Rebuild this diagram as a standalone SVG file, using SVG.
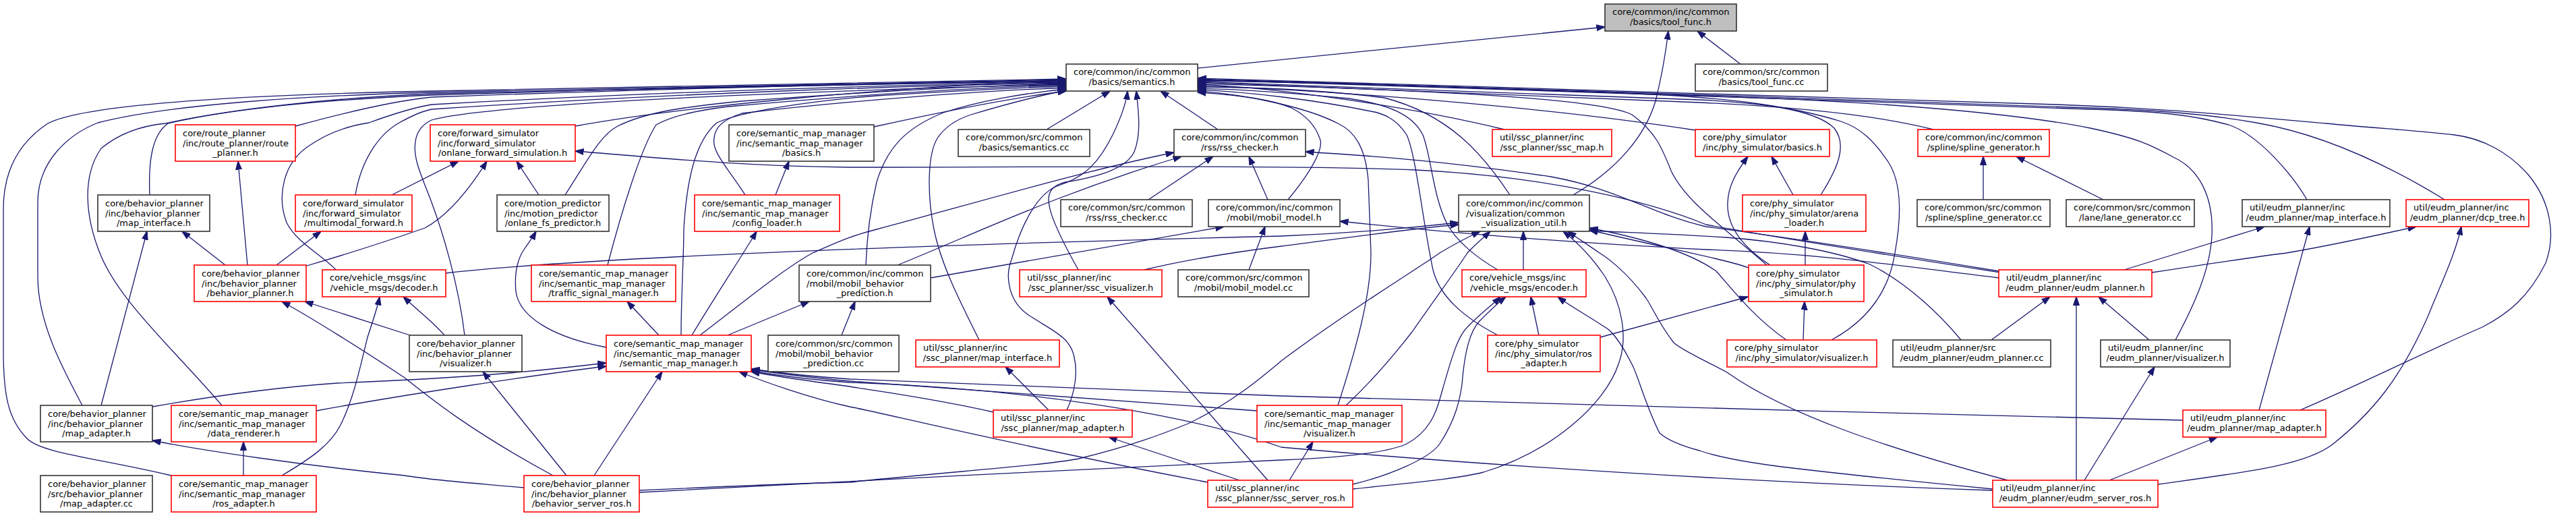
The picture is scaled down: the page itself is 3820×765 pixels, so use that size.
<svg xmlns="http://www.w3.org/2000/svg" width="3820" height="765" viewBox="0 0 3820 765">
<defs>
<marker id="a" viewBox="0 0 13 10" refX="12.5" refY="5" markerWidth="13" markerHeight="10" markerUnits="userSpaceOnUse" orient="auto"><path d="M0,0.5L13,5L0,9.5z" fill="#191970" stroke="#191970" stroke-width="1"/></marker>
<style>
.e path{fill:none;stroke:#191970;stroke-width:1.3;marker-end:url(#a)}
rect{fill:#fff;stroke:#333;stroke-width:1.6}
.r rect{stroke:#f00}
.g rect{fill:#bfbfbf}
text{font-family:"DejaVu Sans",sans-serif;font-size:13px;fill:#000}
.m{text-anchor:middle}
</style>
</defs>
<rect x="0" y="0" width="3820" height="765" style="fill:#fff;stroke:none"/>
<g id="edges" class="e">
<path d="M254,705 C150,680 60,672 40,650 C12,622 5,585 5,520 L5,310 C5,250 30,210 71,183 C130,152 400,140 640,135 C1000,126 1350,119 1581,117"/>
<path d="M122,601 C95,550 56,480 56,410 L56,300 C56,240 100,200 145,182 C250,155 450,142 640,137 C1000,128 1350,120 1581,118"/>
<path d="M329,601 C260,520 180,450 150,380 C125,320 122,260 150,220 C180,195 215,186 245,183 C350,160 500,145 640,139 C1000,129 1350,121 1581,119"/>
<path d="M222,289 C220,240 225,200 249,183 C350,160 500,147 640,141 C1000,130 1350,122 1581,120"/>
<path d="M438,187 C500,170 580,150 640,144 C1000,131 1350,123 1581,121"/>
<path d="M498,400 C480,380 440,360 425,330 C410,290 420,240 460,215 C490,195 520,186 547,182 C580,170 610,160 640,155 C1000,135 1350,125 1581,122"/>
<path d="M527,289 C535,240 560,200 592,182 C610,172 625,165 640,162 C1000,138 1350,127 1581,123"/>
<path d="M689,497 C680,420 655,340 640,300 C625,260 612,235 616,210 C618,195 625,185 640,178 C700,160 1000,140 1581,125"/>
<path d="M853,187 C1000,160 1300,130 1581,119"/>
<path d="M838,289 C870,240 890,200 916,187 C960,165 1020,158 1100,150 C1300,135 1450,127 1581,124"/>
<path d="M901,393 C920,320 950,220 973,185 C1000,170 1040,163 1080,158 C1300,138 1450,130 1581,126"/>
<path d="M1010,497 C1010,440 1014,380 1014,340 C1018,270 1030,210 1063,182 C1100,165 1200,150 1300,142 C1420,135 1500,130 1581,128"/>
<path d="M1105,289 C1080,250 1055,225 1059,205 C1060,190 1070,178 1100,168 C1250,150 1450,135 1581,130"/>
<path d="M1296,188 C1400,165 1500,145 1581,135"/>
<path d="M1284,393 C1286,340 1293,300 1300,270 C1315,220 1342,190 1399,167 C1450,150 1520,138 1581,132"/>
<path d="M1452,504 C1420,440 1395,390 1385,340 C1375,290 1375,230 1390,205 C1400,190 1415,178 1440,170 C1490,155 1540,142 1581,134"/>
<path d="M1552,192 L1646,135"/>
<path d="M1806,192 L1721,135"/>
<path d="M1582,608 C1595,580 1598,550 1593,530 C1588,500 1560,490 1530,470 C1495,450 1490,410 1500,385 C1515,330 1540,285 1570,275 C1610,262 1630,240 1650,200 C1662,175 1670,155 1672,135"/>
<path d="M1599,400 C1585,375 1560,330 1556,305 C1552,285 1560,275 1580,270 C1630,262 1670,250 1682,225 C1692,200 1689,170 1685,135"/>
<path d="M2231,192 C2100,160 1900,130 1776,125"/>
<path d="M2514,193 C2300,160 2000,135 1776,127"/>
<path d="M2867,192 C2800,175 2700,160 2520,152 C2200,140 1950,128 1776,122"/>
<path d="M2239,289 C2200,230 2150,170 2053,145 C1950,132 1850,129 1776,129"/>
<path d="M1910,296 C1940,260 1965,220 1957,205 C1950,185 1935,170 1915,160 C1880,145 1820,140 1776,137"/>
<path d="M1984,601 C2010,520 2033,440 2033,375 L2029,267 C2025,220 2010,195 1984,183 C1940,160 1850,140 1776,135"/>
<path d="M2221,497 C2170,470 2135,440 2125,400 C2110,330 2100,230 2086,200 C2070,175 2050,168 2033,165 C1950,148 1850,136 1776,133"/>
<path d="M2221,400 C2195,385 2160,360 2145,330 C2125,290 2122,230 2110,200 C2095,170 2060,155 2000,146 C1900,136 1830,132 1776,131"/>
<path d="M2620,393 C2560,340 2500,300 2478,253 C2465,220 2455,195 2420,170 C2380,150 2200,135 1776,124"/>
<path d="M2700,289 C2725,250 2740,215 2720,190 C2690,160 2600,152 2520,148 C2200,135 1950,125 1776,121"/>
<path d="M2716,504 C2760,480 2800,440 2810,375 C2820,320 2820,270 2800,240 C2780,210 2760,190 2730,180 C2650,155 2550,145 2450,140 C2200,130 1950,122 1776,120"/>
<path d="M3226,504 C3255,450 3277,400 3280,350 C3283,290 3260,250 3223,233 C3190,215 3170,205 3100,190 C3000,170 2800,150 2520,142 C2200,130 1950,122 1776,119"/>
<path d="M3421,296 C3400,260 3350,200 3305,185 C3250,170 3200,165 3100,162 C2700,150 2200,130 1776,118"/>
<path d="M3625,296 C3550,250 3450,200 3346,182 C3280,170 3200,163 3100,160 C2700,148 2200,128 1776,117"/>
<path d="M3411,608 C3500,570 3600,520 3681,485 C3720,465 3750,440 3775,390 C3790,350 3783,300 3750,260 C3720,225 3680,205 3640,200 C3580,193 3520,190 3450,183 C3300,170 3200,160 3050,155 C2600,142 2200,128 1776,116"/>
<path d="M1776,101 L2380,40"/>
<path d="M2581,95 L2517,46"/>
<path d="M2333,289 C2400,250 2440,200 2455,150 C2465,110 2470,80 2474,46"/>
<path d="M150,601 L218,343"/>
<path d="M334,393 L270,343"/>
<path d="M367,393 L353,239"/>
<path d="M410,393 L476,343"/>
<path d="M455,394 C520,375 590,352 630,338 C660,322 690,290 722,239"/>
<path d="M581,289 L680,239"/>
<path d="M799,289 L766,239"/>
<path d="M2966,404 C2800,378 2620,350 2530,333 C2450,300 2300,262 2100,252 C1900,244 1500,248 1260,248 C1100,246 1000,236 853,224"/>
<path d="M2964,402 C2800,375 2620,348 2530,336 C2450,318 2400,280 2300,262 C2150,240 2050,232 1936,225"/>
<path d="M2964,412 C2800,392 2700,376 2530,370 C2300,358 2150,345 1987,328"/>
<path d="M1150,289 L1170,239"/>
<path d="M977,497 L930,447"/>
<path d="M899,515 C820,500 770,470 765,432 C762,400 770,380 777,370 C785,358 790,352 795,343"/>
<path d="M1026,497 C1060,440 1100,380 1122,343"/>
<path d="M1038,497 C1100,450 1160,400 1205,375 C1240,360 1260,350 1300,340 C1450,300 1600,255 1741,226"/>
<path d="M1079,497 L1200,447"/>
<path d="M1248,497 L1268,447"/>
<path d="M1331,393 C1450,345 1560,290 1752,232"/>
<path d="M1380,412 L1815,336"/>
<path d="M1703,296 L1799,232"/>
<path d="M1880,296 L1852,232"/>
<path d="M1852,400 L1876,336"/>
<path d="M661,405 C900,378 1500,360 1900,350 C2000,346 2100,337 2163,330"/>
<path d="M1697,400 C1760,385 1820,375 1900,365 C2000,352 2100,338 2163,333"/>
<path d="M948,727 C1100,720 1200,716 1260,715 C1400,700 1550,690 1600,680 C1680,660 1720,645 1762,628 C1830,595 1870,560 1900,535 C2000,460 2100,400 2135,375 C2160,360 2180,350 2195,343"/>
<path d="M1996,601 C2040,560 2080,510 2094,492 C2130,440 2160,400 2176,375 C2190,360 2200,352 2210,343"/>
<path d="M2259,400 L2259,343"/>
<path d="M2006,725 C2100,715 2160,710 2200,700 C2300,670 2380,600 2400,540 C2415,500 2405,450 2380,410 C2360,380 2340,360 2318,343"/>
<path d="M2977,712 C2800,665 2650,615 2561,552 C2530,535 2495,520 2482,508 C2460,480 2450,455 2441,442 C2410,400 2380,380 2372,375 C2350,360 2335,350 2325,343"/>
<path d="M2649,504 C2600,470 2570,430 2545,402 C2500,370 2420,350 2357,338"/>
<path d="M2593,397 C2560,385 2480,370 2357,341"/>
<path d="M2625,393 C2590,370 2560,340 2562,300 C2563,275 2575,255 2592,232"/>
<path d="M2659,289 L2627,232"/>
<path d="M2677,393 L2677,343"/>
<path d="M2373,500 L2592,440"/>
<path d="M2674,504 L2676,447"/>
<path d="M2941,296 L2941,232"/>
<path d="M3119,296 L2990,232"/>
<path d="M3150,400 L3358,336"/>
<path d="M3350,608 L3425,336"/>
<path d="M3191,404 C3250,395 3350,380 3391,375 C3450,365 3520,350 3583,336"/>
<path d="M3200,718 C3330,700 3420,690 3460,658 C3520,610 3560,560 3600,470 C3620,420 3640,380 3650,336"/>
<path d="M2953,504 L3040,440"/>
<path d="M3079,712 L3079,440"/>
<path d="M3187,504 L3112,440"/>
<path d="M3091,712 L3195,544"/>
<path d="M3128,712 L3288,648"/>
<path d="M608,497 L452,447"/>
<path d="M659,497 C645,480 625,465 598,440"/>
<path d="M820,705 C700,640 640,592 600,560 C540,520 460,470 418,447"/>
<path d="M840,705 L716,551"/>
<path d="M881,705 L982,551"/>
<path d="M777,723 C700,716 640,712 600,705 C450,690 300,668 226,653"/>
<path d="M948,730 C1100,722 1700,690 1900,682 C2000,678 2060,670 2086,658 C2120,640 2130,610 2135,592 C2150,540 2160,500 2176,485 C2195,465 2210,455 2225,440"/>
<path d="M361,705 L361,655"/>
<path d="M418,705 C460,680 490,660 505,630 C525,590 535,540 545,500 C555,470 560,455 563,440"/>
<path d="M226,603 C300,590 400,575 500,568 C700,560 800,550 899,538"/>
<path d="M469,609 C600,585 800,555 899,543"/>
<path d="M1473,611 C1380,590 1300,580 1260,573 C1200,565 1150,558 1114,551"/>
<path d="M1864,609 C1600,590 1400,575 1260,565 C1200,560 1150,553 1114,548"/>
<path d="M1791,715 C1500,660 1300,610 1260,603 C1200,590 1130,565 1096,551"/>
<path d="M2955,727 C2600,715 2200,690 1900,663 C1750,610 1500,575 1260,567 C1200,563 1150,556 1114,550"/>
<path d="M3237,623 C2800,612 2300,600 1900,587 C1600,577 1300,565 1260,562 C1200,558 1150,552 1114,547"/>
<path d="M1555,608 L1491,544"/>
<path d="M1838,712 L1644,648"/>
<path d="M1880,712 L1642,440"/>
<path d="M1912,712 L1947,655"/>
<path d="M2006,718 C2060,705 2120,680 2135,658 C2160,620 2165,590 2168,570 C2172,520 2180,490 2195,475 C2210,460 2220,450 2233,440"/>
<path d="M2955,725 C2850,715 2750,705 2642,692 C2580,684 2540,675 2520,668 C2490,660 2470,650 2461,642 C2440,600 2430,560 2421,542 C2405,510 2390,490 2380,485 C2350,465 2330,455 2310,440"/>
<path d="M2282,497 L2270,440"/>
<path d="M2908,504 C2880,470 2830,420 2773,392 C2720,372 2640,358 2560,352 C2480,347 2420,345 2357,342"/>
</g>
<g id="nodes">
<g id="tool_func_h" class="g"><rect x="2380" y="6" width="195" height="40"/><text x="2391" y="22">core/common/inc/common</text><text class="m" x="2477.5" y="37">/basics/tool_func.h</text></g>
<g id="semantics_h"><rect x="1581" y="95" width="195" height="40"/><text x="1592" y="111">core/common/inc/common</text><text class="m" x="1678.5" y="126">/basics/semantics.h</text></g>
<g id="tool_func_cc"><rect x="2514" y="95" width="196" height="40"/><text x="2525" y="111">core/common/src/common</text><text class="m" x="2612" y="126">/basics/tool_func.cc</text></g>
<g id="route_planner_h" class="r"><rect x="260" y="185" width="178" height="54"/><text x="271" y="202">core/route_planner</text><text x="271" y="216.5">/inc/route_planner/route</text><text class="m" x="349" y="231">_planner.h</text></g>
<g id="onlane_forward_simulation_h" class="r"><rect x="638" y="185" width="215" height="54"/><text x="649" y="202">core/forward_simulator</text><text x="649" y="216.5">/inc/forward_simulator</text><text class="m" x="745.5" y="231">/onlane_forward_simulation.h</text></g>
<g id="smm_basics_h"><rect x="1081" y="185" width="215" height="54"/><text x="1092" y="202">core/semantic_map_manager</text><text x="1092" y="216.5">/inc/semantic_map_manager</text><text class="m" x="1188.5" y="231">/basics.h</text></g>
<g id="semantics_cc"><rect x="1421" y="192" width="195" height="40"/><text x="1432" y="208">core/common/src/common</text><text class="m" x="1518.5" y="223">/basics/semantics.cc</text></g>
<g id="rss_checker_h"><rect x="1741" y="192" width="195" height="40"/><text x="1752" y="208">core/common/inc/common</text><text class="m" x="1838.5" y="223">/rss/rss_checker.h</text></g>
<g id="ssc_map_h" class="r"><rect x="2213" y="192" width="177" height="40"/><text x="2224" y="208">util/ssc_planner/inc</text><text class="m" x="2301.5" y="223">/ssc_planner/ssc_map.h</text></g>
<g id="phy_basics_h" class="r"><rect x="2514" y="192" width="199" height="40"/><text x="2525" y="208">core/phy_simulator</text><text class="m" x="2613.5" y="223">/inc/phy_simulator/basics.h</text></g>
<g id="spline_generator_h" class="r"><rect x="2844" y="192" width="195" height="40"/><text x="2855" y="208">core/common/inc/common</text><text class="m" x="2941.5" y="223">/spline/spline_generator.h</text></g>
<g id="bp_map_interface_h"><rect x="145" y="289" width="166" height="54"/><text x="156" y="306">core/behavior_planner</text><text x="156" y="320.5">/inc/behavior_planner</text><text class="m" x="228" y="335">/map_interface.h</text></g>
<g id="multimodal_forward_h" class="r"><rect x="438" y="289" width="173" height="54"/><text x="449" y="306">core/forward_simulator</text><text x="449" y="320.5">/inc/forward_simulator</text><text class="m" x="524.5" y="335">/multimodal_forward.h</text></g>
<g id="onlane_fs_predictor_h"><rect x="737" y="289" width="166" height="54"/><text x="748" y="306">core/motion_predictor</text><text x="748" y="320.5">/inc/motion_predictor</text><text class="m" x="820" y="335">/onlane_fs_predictor.h</text></g>
<g id="config_loader_h" class="r"><rect x="1030" y="289" width="215" height="54"/><text x="1041" y="306">core/semantic_map_manager</text><text x="1041" y="320.5">/inc/semantic_map_manager</text><text class="m" x="1137.5" y="335">/config_loader.h</text></g>
<g id="rss_checker_cc"><rect x="1573" y="296" width="195" height="40"/><text x="1584" y="312">core/common/src/common</text><text class="m" x="1670.5" y="327">/rss/rss_checker.cc</text></g>
<g id="mobil_model_h"><rect x="1792" y="296" width="195" height="40"/><text x="1803" y="312">core/common/inc/common</text><text class="m" x="1889.5" y="327">/mobil/mobil_model.h</text></g>
<g id="common_visualization_util_h"><rect x="2163" y="289" width="194" height="54"/><text x="2174" y="306">core/common/inc/common</text><text x="2174" y="320.5">/visualization/common</text><text class="m" x="2260" y="335">_visualization_util.h</text></g>
<g id="arena_loader_h" class="r"><rect x="2584" y="289" width="183" height="54"/><text x="2595" y="306">core/phy_simulator</text><text x="2595" y="320.5">/inc/phy_simulator/arena</text><text class="m" x="2675.5" y="335">_loader.h</text></g>
<g id="spline_generator_cc"><rect x="2843" y="296" width="197" height="40"/><text x="2854" y="312">core/common/src/common</text><text class="m" x="2941.5" y="327">/spline/spline_generator.cc</text></g>
<g id="lane_generator_cc"><rect x="3064" y="296" width="190" height="40"/><text x="3075" y="312">core/common/src/common</text><text class="m" x="3159" y="327">/lane/lane_generator.cc</text></g>
<g id="eudm_map_interface_h"><rect x="3325" y="296" width="219" height="40"/><text x="3336" y="312">util/eudm_planner/inc</text><text class="m" x="3434.5" y="327">/eudm_planner/map_interface.h</text></g>
<g id="dcp_tree_h" class="r"><rect x="3568" y="296" width="182" height="40"/><text x="3579" y="312">util/eudm_planner/inc</text><text class="m" x="3659" y="327">/eudm_planner/dcp_tree.h</text></g>
<g id="behavior_planner_h" class="r"><rect x="288" y="393" width="166" height="54"/><text x="299" y="410">core/behavior_planner</text><text x="299" y="424.5">/inc/behavior_planner</text><text class="m" x="371" y="439">/behavior_planner.h</text></g>
<g id="decoder_h" class="r"><rect x="478" y="400" width="183" height="40"/><text x="489" y="416">core/vehicle_msgs/inc</text><text class="m" x="569.5" y="431">/vehicle_msgs/decoder.h</text></g>
<g id="traffic_signal_manager_h" class="r"><rect x="788" y="393" width="214" height="54"/><text x="799" y="410">core/semantic_map_manager</text><text x="799" y="424.5">/inc/semantic_map_manager</text><text class="m" x="895" y="439">/traffic_signal_manager.h</text></g>
<g id="mobil_behavior_prediction_h"><rect x="1185" y="393" width="195" height="54"/><text x="1196" y="410">core/common/inc/common</text><text x="1196" y="424.5">/mobil/mobil_behavior</text><text class="m" x="1282.5" y="439">_prediction.h</text></g>
<g id="ssc_visualizer_h" class="r"><rect x="1512" y="400" width="211" height="40"/><text x="1523" y="416">util/ssc_planner/inc</text><text class="m" x="1617.5" y="431">/ssc_planner/ssc_visualizer.h</text></g>
<g id="mobil_model_cc"><rect x="1747" y="400" width="194" height="40"/><text x="1758" y="416">core/common/src/common</text><text class="m" x="1844" y="431">/mobil/mobil_model.cc</text></g>
<g id="encoder_h" class="r"><rect x="2168" y="400" width="184" height="40"/><text x="2179" y="416">core/vehicle_msgs/inc</text><text class="m" x="2260" y="431">/vehicle_msgs/encoder.h</text></g>
<g id="phy_simulator_h" class="r"><rect x="2593" y="393" width="171" height="54"/><text x="2604" y="410">core/phy_simulator</text><text x="2604" y="424.5">/inc/phy_simulator/phy</text><text class="m" x="2678.5" y="439">_simulator.h</text></g>
<g id="eudm_planner_h" class="r"><rect x="2964" y="400" width="227" height="40"/><text x="2975" y="416">util/eudm_planner/inc</text><text class="m" x="3077.5" y="431">/eudm_planner/eudm_planner.h</text></g>
<g id="bp_visualizer_h"><rect x="607" y="497" width="167" height="54"/><text x="618" y="514">core/behavior_planner</text><text x="618" y="528.5">/inc/behavior_planner</text><text class="m" x="690.5" y="543">/visualizer.h</text></g>
<g id="semantic_map_manager_h" class="r"><rect x="899" y="497" width="215" height="54"/><text x="910" y="514">core/semantic_map_manager</text><text x="910" y="528.5">/inc/semantic_map_manager</text><text class="m" x="1006.5" y="543">/semantic_map_manager.h</text></g>
<g id="mobil_behavior_prediction_cc"><rect x="1139" y="497" width="194" height="54"/><text x="1150" y="514">core/common/src/common</text><text x="1150" y="528.5">/mobil/mobil_behavior</text><text class="m" x="1236" y="543">_prediction.cc</text></g>
<g id="ssc_map_interface_h" class="r"><rect x="1358" y="504" width="213" height="40"/><text x="1369" y="520">util/ssc_planner/inc</text><text class="m" x="1464.5" y="535">/ssc_planner/map_interface.h</text></g>
<g id="phy_ros_adapter_h" class="r"><rect x="2206" y="497" width="167" height="54"/><text x="2217" y="514">core/phy_simulator</text><text x="2217" y="528.5">/inc/phy_simulator/ros</text><text class="m" x="2289.5" y="543">_adapter.h</text></g>
<g id="phy_visualizer_h" class="r"><rect x="2561" y="504" width="222" height="40"/><text x="2572" y="520">core/phy_simulator</text><text class="m" x="2672" y="535">/inc/phy_simulator/visualizer.h</text></g>
<g id="eudm_planner_cc"><rect x="2807" y="504" width="234" height="40"/><text x="2818" y="520">util/eudm_planner/src</text><text class="m" x="2924" y="535">/eudm_planner/eudm_planner.cc</text></g>
<g id="eudm_visualizer_h"><rect x="3115" y="504" width="192" height="40"/><text x="3126" y="520">util/eudm_planner/inc</text><text class="m" x="3211" y="535">/eudm_planner/visualizer.h</text></g>
<g id="bp_map_adapter_h"><rect x="60" y="601" width="166" height="54"/><text x="71" y="618">core/behavior_planner</text><text x="71" y="632.5">/inc/behavior_planner</text><text class="m" x="143" y="647">/map_adapter.h</text></g>
<g id="data_renderer_h" class="r"><rect x="254" y="601" width="215" height="54"/><text x="265" y="618">core/semantic_map_manager</text><text x="265" y="632.5">/inc/semantic_map_manager</text><text class="m" x="361.5" y="647">/data_renderer.h</text></g>
<g id="ssc_map_adapter_h" class="r"><rect x="1473" y="608" width="206" height="40"/><text x="1484" y="624">util/ssc_planner/inc</text><text class="m" x="1576" y="639">/ssc_planner/map_adapter.h</text></g>
<g id="smm_visualizer_h" class="r"><rect x="1864" y="601" width="215" height="54"/><text x="1875" y="618">core/semantic_map_manager</text><text x="1875" y="632.5">/inc/semantic_map_manager</text><text class="m" x="1971.5" y="647">/visualizer.h</text></g>
<g id="eudm_map_adapter_h" class="r"><rect x="3237" y="608" width="212" height="40"/><text x="3248" y="624">util/eudm_planner/inc</text><text class="m" x="3343" y="639">/eudm_planner/map_adapter.h</text></g>
<g id="bp_map_adapter_cc"><rect x="60" y="705" width="166" height="54"/><text x="71" y="722">core/behavior_planner</text><text x="71" y="736.5">/src/behavior_planner</text><text class="m" x="143" y="751">/map_adapter.cc</text></g>
<g id="ros_adapter_h" class="r"><rect x="254" y="705" width="215" height="54"/><text x="265" y="722">core/semantic_map_manager</text><text x="265" y="736.5">/inc/semantic_map_manager</text><text class="m" x="361.5" y="751">/ros_adapter.h</text></g>
<g id="behavior_server_ros_h" class="r"><rect x="777" y="705" width="171" height="54"/><text x="788" y="722">core/behavior_planner</text><text x="788" y="736.5">/inc/behavior_planner</text><text class="m" x="862.5" y="751">/behavior_server_ros.h</text></g>
<g id="ssc_server_ros_h" class="r"><rect x="1791" y="712" width="215" height="40"/><text x="1802" y="728">util/ssc_planner/inc</text><text class="m" x="1898.5" y="743">/ssc_planner/ssc_server_ros.h</text></g>
<g id="eudm_server_ros_h" class="r"><rect x="2955" y="712" width="245" height="40"/><text x="2966" y="728">util/eudm_planner/inc</text><text class="m" x="3077.5" y="743">/eudm_planner/eudm_server_ros.h</text></g>
</g>
</svg>
